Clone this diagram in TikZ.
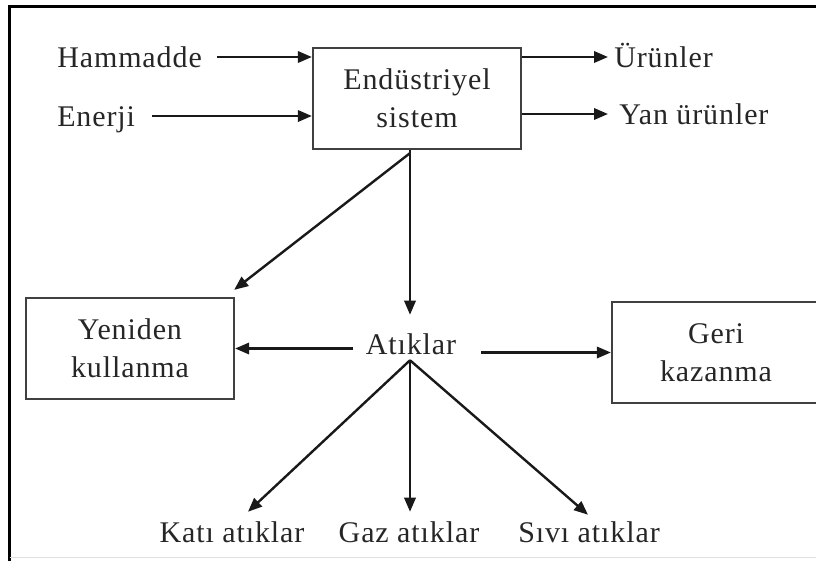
\documentclass[tikz,border=0pt]{standalone}
\usepackage{fontspec}
\setmainfont{Liberation Serif}[LetterSpace=3]
\usetikzlibrary{arrows.meta,calc}
\definecolor{boxgray}{gray}{0.25}
\definecolor{txt}{gray}{0.15}
\tikzset{
  lbl/.style={inner sep=0pt, text height=15pt, text depth=0pt, text=txt,
              font=\fontsize{22.5}{28.5}\selectfont},
  box/.style={draw=boxgray, line width=1.7pt, minimum width=156pt,
              minimum height=75.75pt, align=center, inner sep=0pt, text=txt,
              font=\fontsize{22.5}{28.5}\selectfont},
  arr/.style={line width=1.8pt, draw=black!90, -{Triangle[length=10.5pt,width=8.5pt]}},
}
\begin{document}
\begin{tikzpicture}[x=0.75pt,y=-0.75pt]
\useasboundingbox (0,0) rectangle (816,560);
% frame
\draw[line width=2.25pt] (9.5,580) -- (9.5,6.5) -- (830,6.5);
\draw[gray!25, line width=1pt] (9.5,557.5) -- (830,557.5);
% nodes
\node[lbl, anchor=west] (ham) at (57,57) {Hammadde};
\node[lbl, anchor=west] (ene) at (57,116) {Enerji};
\node[box] (sys) at (417,98.5) {Endüstriyel\\sistem};
\node[lbl, anchor=west] (uru) at (614,57) {Ürünler};
\node[lbl, anchor=west] (yan) at (619,114) {Yan ürünler};
\node[box] (yen) at (130,348.5) {Yeniden\\kullanma};
\node[box] (geri) at (716,352.5) {Geri\\kazanma};
\node[lbl] (atik) at (411,344) {Atıklar};
\node[lbl] (kati) at (232,532) {Katı atıklar};
\node[lbl] (gaz) at (409,532) {Gaz atıklar};
\node[lbl] (sivi) at (589,532) {Sıvı atıklar};
\coordinate (src) at ($(atik.south)+(-1,6)$);
% connectors
\draw[arr] ($(ham.east)+(15,0)$) -- (ham.east -| sys.west);
\draw[arr] ($(ene.east)+(17,0)$) -- (ene.east -| sys.west);
\draw[arr] (sys.east |- uru.west) -- ($(uru.west)+(-6,0)$);
\draw[arr] (sys.east |- yan.west) -- ($(yan.west)+(-11,0)$);
\draw[arr] ($(sys.south)+(-7,3)$) -- ($(yen.north east)+(-1,-7)$);
\draw[arr] (sys.south -| src) -- ($(atik.north)+(-1,-19)$);
\draw[arr] ($(atik.west |- yen.east)+(-13,0)$) -- (yen.east);
\draw[arr] ($(atik.east |- geri.west)+(25,0)$) -- (geri.west);
\draw[arr] (src) -- ($(kati.north)+(16,-10)$);
\draw[arr] (src) -- ($(src |- gaz.north)+(0,-10)$);
\draw[arr] (src) -- ($(sivi.north)+(-1,-7)$);
\end{tikzpicture}
\end{document}
